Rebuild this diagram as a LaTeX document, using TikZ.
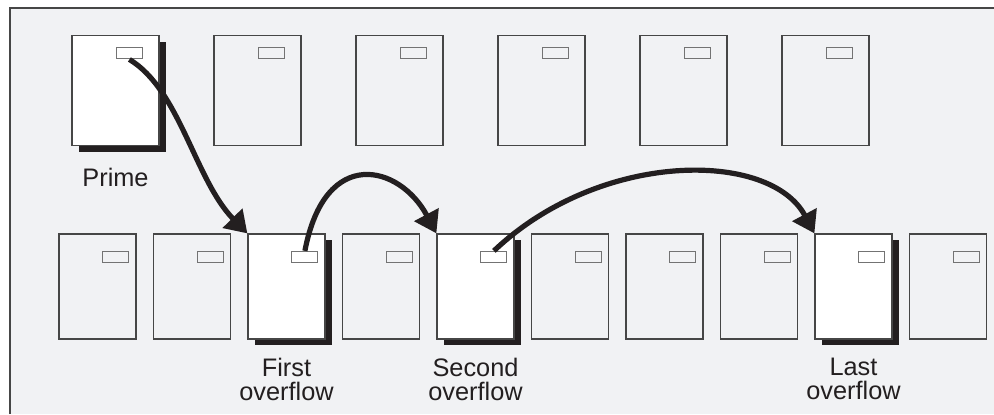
\documentclass[tikz,border=0pt]{standalone}
\usepackage{fontspec}
\setmainfont{Liberation Sans}
\usetikzlibrary{arrows.meta, positioning, shadows}
\definecolor{panelgray}{RGB}{241,242,244}
\definecolor{inkblack}{RGB}{35,31,32}
\definecolor{edgegray}{RGB}{70,70,70}
\definecolor{tabgray}{RGB}{115,115,115}

\begin{document}
\begin{tikzpicture}[
    x=0.75pt, y=-0.75pt,
    font=\fontsize{19}{18}\selectfont,
    page/.style={draw=edgegray, line width=0.9pt, inner sep=0pt},
    bigpage/.style={page, minimum width=65.25pt, minimum height=82.5pt},
    smallpage/.style={page, minimum width=57.75pt, minimum height=78.75pt},
    plain/.style={},
    chain/.style={fill=white, general shadow={fill=inkblack,
                  shadow xshift=5.25pt, shadow yshift=-4.5pt}},
    tab/.style={draw=tabgray, line width=0.8pt, minimum width=19.5pt,
                minimum height=8.25pt, inner sep=0pt},
    link/.style={-{Triangle[length=16pt, width=20pt]}, line width=3.9pt, draw=inkblack},
    lab/.style={text=inkblack, align=center, inner sep=0pt},
  ]
  \useasboundingbox (0,0) rectangle (994,414);
  % panel
  \fill[panelgray] (10,8) rectangle (994,414);
  \draw[edgegray, line width=1.2pt] (10,414) -- (10,8) -- (994,8);
  % top row
  \foreach \i/\kind in {0/chain,1/plain,2/plain,3/plain,4/plain,5/plain} {
    \node[bigpage, \kind] (t\i) at ({115.5+142*\i},90.5) {};
    \node[tab] (tab-t\i) at ([xshift=43.5pt, yshift=-13.875pt]t\i.north west) {};
  }
  % bottom row
  \foreach \i/\kind in {0/plain,1/plain,2/chain,3/plain,4/chain,5/plain,6/plain,7/plain,8/chain,9/plain} {
    \node[smallpage, \kind] (b\i) at ({97.5+94.5*\i},286.5) {};
    \node[tab] (tab-b\i) at ([xshift=43.125pt, yshift=-17.625pt]b\i.north west) {};
  }
  % labels
  \node[lab, below=16.5pt of t0] (lprime)  {Prime};
  \node[lab, below=13.5pt of b2] (lfirst)  {First\\overflow};
  \node[lab, below=13.5pt of b4] (lsecond) {Second\\overflow};
  \node[lab, below=13.5pt of b8] (llast)   {Last\\overflow};
  % arrows
  \draw[link] (tab-t0.south) .. controls (180,90) and (195,180) .. (b2.north west);
  \draw[link] (tab-b2.north) .. controls (325,145) and (400,165) .. (b4.north west);
  \draw[link] (tab-b4.north) .. controls (600,150) and (770,150) .. (b8.north west);
\end{tikzpicture}
\end{document}
